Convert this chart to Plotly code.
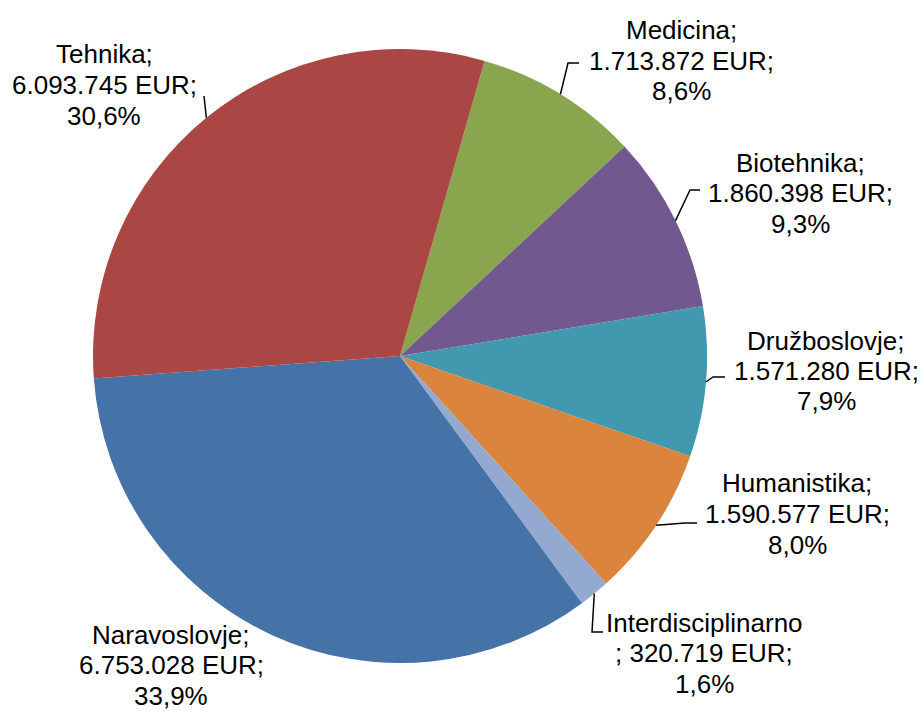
import math
import plotly.graph_objects as go

# data (clockwise order, starting with Medicina)
areas = ["Medicina", "Biotehnika", "Družboslovje", "Humanistika",
         "Interdisciplinarno", "Naravoslovje", "Tehnika"]
amounts = [1713872, 1860398, 1571280, 1590577, 320719, 6753028, 6093745]
colors = ["#89A54E", "#71588F", "#4198AF", "#DB843D",
          "#93A9CF", "#4572A7", "#AA4643"]

W, H = 922, 711
CX, CY, R = 400, 356, 307      # pie centre / radius in pixels
ROTATION = 16
LINE_GAP = 30.5                # px between label lines

# label centres (middle line) and leader-line elbows, pixels, same order as areas
label_pos = [(681, 61), (800, 193), (826, 371), (797, 514),
             (704, 653), (171, 665), (104, 85)]
leader_pts = [[(579, 63), (568, 63)], [(700, 190), (690, 190)],
              [(725, 377), (713, 377)], [(697, 523), (685, 523)],
              [(603, 632), (592, 632)], [], [(204, 96)]]


def fmt_int(v):
    return f"{v:,}".replace(",", ".")


def px(x, y):
    return x / W, 1 - y / H


total = sum(amounts)

fig = go.Figure(go.Pie(
    labels=areas,
    values=amounts,
    sort=False,
    direction="clockwise",
    rotation=ROTATION,
    marker=dict(colors=colors, line=dict(width=0)),
    textinfo="none",
    hoverinfo="label+value+percent",
    showlegend=False,
    domain=dict(x=[(CX - R) / W, (CX + R) / W],
                y=[1 - (CY + R) / H, 1 - (CY - R) / H]),
))

annotations = []
shapes = []
angle = ROTATION
for name, val, (lx, ly), pts in zip(areas, amounts, label_pos, leader_pts):
    frac = val / total
    span = frac * 360
    mid = math.radians(angle + span / 2)
    angle += span

    pct = f"{frac * 100:.1f}%".replace(".", ",")
    if len(name) > 15:
        lines = [name, f"; {fmt_int(val)} EUR;", pct]
    else:
        lines = [f"{name};", f"{fmt_int(val)} EUR;", pct]
    for i, line in enumerate(lines):
        ax, ay = px(lx, ly + (i - 1) * LINE_GAP)
        annotations.append(dict(x=ax, y=ay, xref="paper", yref="paper",
                                text=line, showarrow=False,
                                xanchor="center", yanchor="middle",
                                font=dict(family="Liberation Sans, Arial",
                                          size=26, color="black")))

    if pts:
        edge = (CX + R * math.sin(mid), CY - R * math.cos(mid))
        path_pts = [px(*p) for p in pts + [edge]]
        path = "M " + " L ".join(f"{x},{y}" for x, y in path_pts)
        shapes.append(dict(type="path", path=path, xref="paper", yref="paper",
                           line=dict(color="black", width=1.5)))

fig.update_layout(
    width=W, height=H,
    margin=dict(l=0, r=0, t=0, b=0),
    paper_bgcolor="white",
    plot_bgcolor="white",
    annotations=annotations,
    shapes=shapes,
)

# drop the browser's default body margin so the chart sits at (0, 0)
fig.write_html("out.html", config={"displayModeBar": False},
               post_script="document.body.style.margin = '0';")
